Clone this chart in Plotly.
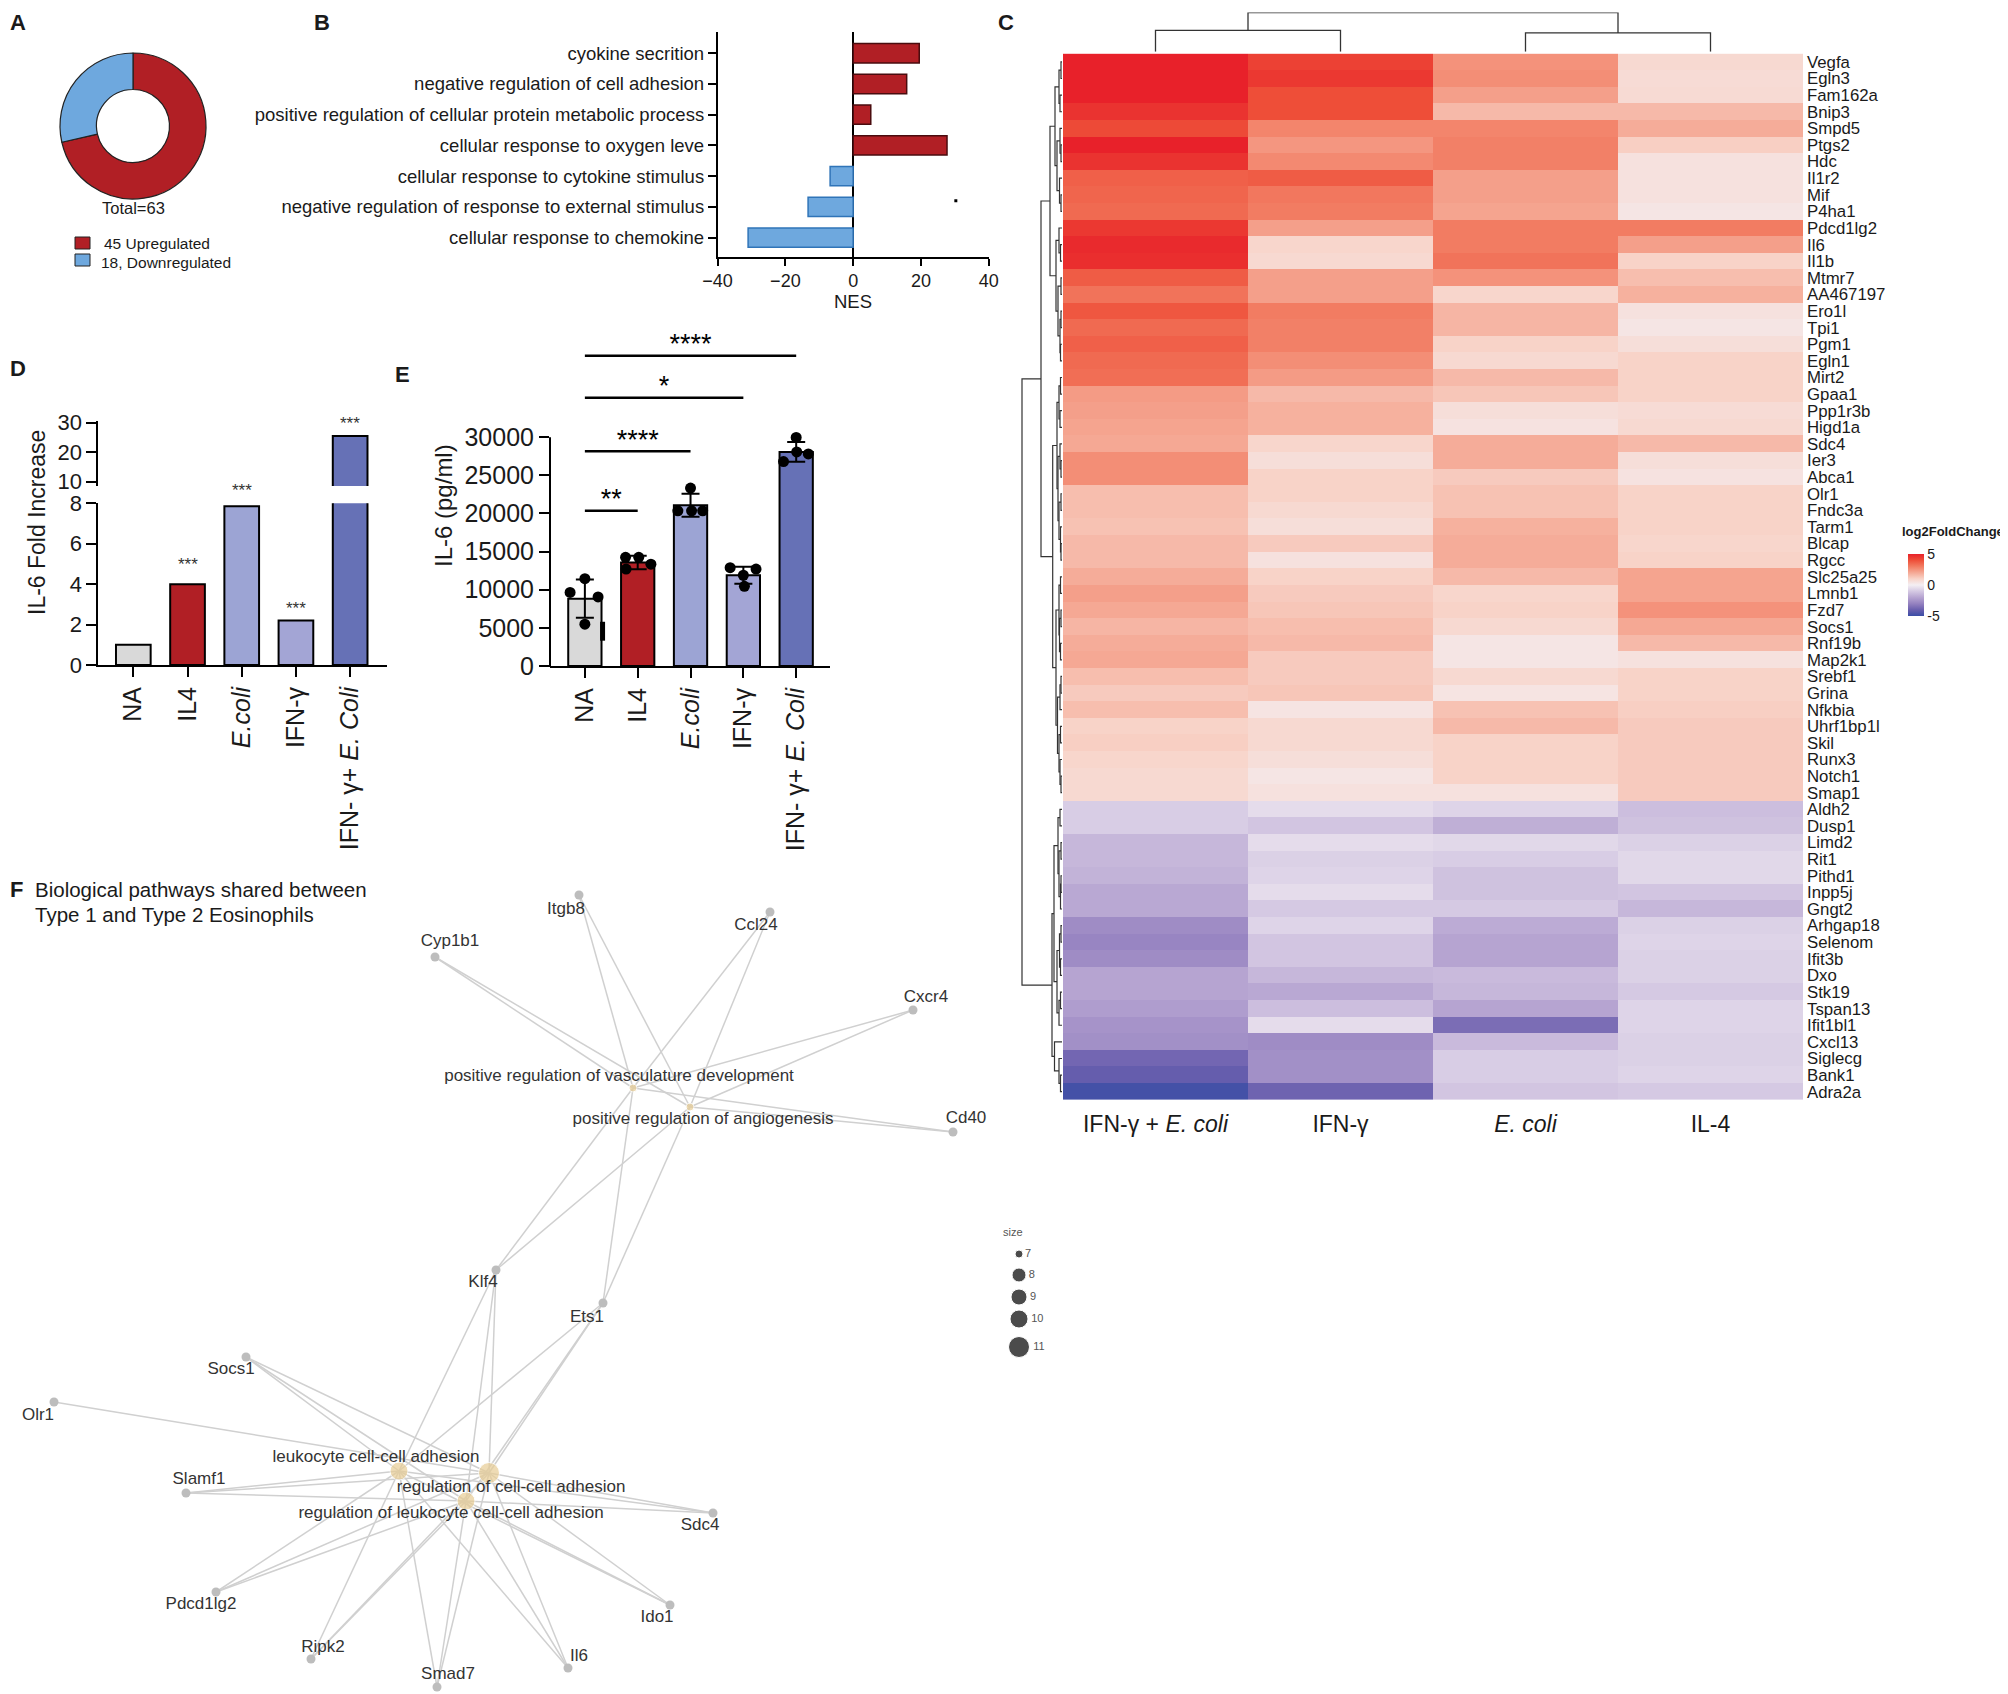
import plotly.graph_objects as go

W, H = 2008, 1694
OFF = 8  # the page body margin shifts the figure by this much
FONT = "Liberation Sans, Arial, sans-serif"
INK = "#1a1a1a"


def xdom(left, right):
    return [(left - OFF) / W, (right - OFF) / W]


def ydom(top, bottom):
    return [1 - (bottom - OFF) / H, 1 - (top - OFF) / H]


def px(x):
    return (x - OFF) / W


def py(y):
    return 1 - (y - OFF) / H


# ---------------- A: donut ----------------
pie_labels = ["45 Upregulated", "18, Downregulated"]
pie_values = [45, 18]
pie_colors = ["#B11F25", "#6EA8DE"]

# ---------------- B: NES ----------------
nes_terms = ["cyokine secrition", "negative regulation of cell adhesion",
             "positive regulation of cellular protein metabolic process",
             "cellular response to oxygen leve", "cellular response to cytokine stimulus",
             "negative regulation of response to external stimulus",
             "cellular response to chemokine"]
nes_values = [19.5, 15.8, 5.2, 27.7, -6.8, -13.3, -31.0]
nes_speck_x = [30.3]
nes_speck_y = [4.8]

# ---------------- C: heatmap ----------------
genes = ["Vegfa", "Egln3", "Fam162a", "Bnip3", "Smpd5", "Ptgs2", "Hdc", "Il1r2", "Mif", "P4ha1",
         "Pdcd1lg2", "Il6", "Il1b", "Mtmr7", "AA467197", "Ero1l", "Tpi1", "Pgm1", "Egln1", "Mirt2",
         "Gpaa1", "Ppp1r3b", "Higd1a", "Sdc4", "Ier3", "Abca1", "Olr1", "Fndc3a", "Tarm1", "Blcap",
         "Rgcc", "Slc25a25", "Lmnb1", "Fzd7", "Socs1", "Rnf19b", "Map2k1", "Srebf1", "Grina", "Nfkbia",
         "Uhrf1bp1l", "Skil", "Runx3", "Notch1", "Smap1",
         "Aldh2", "Dusp1", "Limd2", "Rit1", "Pithd1",
         "Inpp5j", "Gngt2", "Arhgap18", "Selenom", "Ifit3b", "Dxo", "Stk19", "Tspan13", "Ifit1bl1", "Cxcl13",
         "Siglecg", "Bank1", "Adra2a"]
conditions = ["IFN-γ + <i>E. coli</i>", "IFN-γ", "<i>E. coli</i>", "IL-4"]
lfc_ifn_ecoli = [5.0, 5.0, 5.0, 4.6, 4.1, 5.0, 4.6, 3.6, 3.5, 3.4,
                 4.5, 4.8, 4.7, 3.7, 3.2, 3.8, 3.4, 3.6, 3.4, 3.3,
                 2.3, 2.2, 2.1, 2.0, 2.6, 2.6, 1.5, 1.5, 1.4, 1.6,
                 1.6, 1.9, 2.2, 2.0, 1.7, 1.9, 2.0, 1.5, 1.2, 1.5,
                 1.0, 1.1, 0.9, 0.8, 0.8,
                 -0.9, -0.9, -1.5, -1.5, -1.6,
                 -1.9, -1.9, -2.7, -2.9, -2.7, -2.0, -2.0, -2.2, -2.5, -2.6,
                 -3.8, -4.1, -4.8]
lfc_ifn = [4.3, 4.5, 4.0, 4.0, 2.8, 2.4, 2.7, 3.7, 3.1, 3.0,
           2.2, 0.9, 0.8, 2.2, 2.2, 3.0, 2.9, 2.9, 2.6, 2.3,
           1.6, 1.8, 1.8, 0.9, 0.6, 1.0, 1.0, 0.8, 0.6, 1.2,
           0.5, 1.0, 1.2, 1.3, 1.5, 1.6, 1.2, 1.2, 1.3, 0.4,
           0.8, 0.8, 0.6, 0.35, 0.5,
           -0.5, -1.1, -0.5, -0.8, -0.7,
           -0.5, -1.0, -0.7, -1.1, -1.1, -1.5, -1.9, -1.3, -0.5, -2.7,
           -2.6, -2.6, -3.9]
lfc_ecoli = [2.5, 2.6, 2.2, 1.6, 2.8, 2.9, 2.9, 2.2, 2.2, 2.1,
             3.0, 3.0, 3.2, 2.5, 0.9, 1.7, 1.7, 1.0, 0.8, 1.6,
             1.3, 0.6, 0.45, 1.9, 1.9, 1.2, 1.4, 1.4, 1.8, 1.9,
             1.9, 1.6, 0.9, 1.0, 0.8, 0.35, 0.35, 0.8, 0.4, 1.4,
             1.6, 1.0, 1.0, 1.0, 0.5,
             -0.7, -1.7, -0.6, -0.9, -1.2,
             -1.2, -1.0, -1.8, -2.0, -2.0, -1.4, -1.5, -2.0, -3.6, -1.4,
             -0.9, -0.9, -1.1]
lfc_il4 = [0.8, 0.7, 0.75, 1.6, 1.9, 1.1, 0.5, 0.5, 0.5, 0.35,
           3.0, 2.2, 1.0, 1.5, 1.8, 0.5, 0.35, 0.6, 1.0, 1.0,
           1.0, 0.7, 0.8, 1.6, 0.6, 0.45, 1.0, 1.0, 1.0, 0.9,
           1.0, 2.1, 2.1, 2.5, 2.0, 1.6, 0.5, 1.0, 1.0, 1.1,
           1.2, 1.2, 1.2, 1.2, 1.2,
           -1.3, -1.2, -0.8, -0.6, -0.6,
           -1.1, -1.5, -0.8, -0.7, -0.8, -0.8, -1.0, -0.7, -0.7, -0.8,
           -0.8, -0.7, -1.0]

# dendrograms: [merge height, left, right], leaves are column / row indices
col_tree = [39.3, [21.4, 0, 1], [18.9, 2, 3]]
red_top = [12, [7, [3, [1, 0, 1], [2, 2, 3]], [5, [2, 4, [1, 5, 6]], [2.5, 7, [1, 8, 9]]]],
           [6, [3, 10, [1.5, 11, 12]], [4, [1, 13, 14], [2, [1, 15, 16], [1.5, 17, 18]]]]]
red_low = [9.3, [5, [3, [1.5, 19, 20], [2, 21, 22]], [4, [2, 23, [1, 24, 25]], [3, [1, 26, 27], [1.5, 28, [1, 29, 30]]]]],
           [6, [3, [1.5, 31, 32], [2.5, [1, 33, 34], [1.5, 35, 36]]],
            [4.5, [2, [1, 37, 38], 39], [3, [1.5, 40, 41], [2, 42, [1, 43, 44]]]]]]
blue = [10, [8, [4, [2, 45, 46], [3, [1, 47, 48], [1.5, [1, 49, 50], 51]]],
             [5, [2.5, [1, 52, 53], [1.5, 54, 55]], [3, [1.5, 56, 57], 58]]],
        [7.5, 59, [3, 60, [1.5, 61, 62]]]]
row_tree = [40, [21, red_top, red_low], blue]

# ---------------- D / E ----------------
treatments = ["NA", "IL4", "<i>E.coli</i>", "IFN-γ", "IFN- γ+ <i>E. Coli</i>"]
bar_colors = ["#D9D9D9", "#B11F25", "#9CA4D4", "#A3A5D5", "#6671B6"]
fold_increase = [1.0, 4.0, 7.85, 2.2, 25.5]
fold_star_y = [None, 5.15, 8.85, 3.0, 31.2]

il6_mean = [8830, 13570, 21070, 11900, 28070]
il6_sd = [2500, 900, 1500, 1100, 1300]
il6_dot_group = [0, 0, 0, 0, 1, 1, 1, 1, 2, 2, 2, 2, 3, 3, 3, 3, 4, 4, 4, 4]
il6_dot_offset = [-0.28, 0.0, 0.25, 0.0, -0.23, 0.02, 0.25, -0.22, 0.0, -0.24, 0.02, 0.23,
                  -0.25, 0.02, 0.24, 0.0, 0.0, -0.24, 0.01, 0.23]
il6_dot_value = [9640, 11450, 9050, 5490, 14250, 14250, 13350, 12710, 23330, 20350, 20350, 20350,
                 12890, 10450, 12710, 11900, 29970, 26800, 28070, 27800]
sig_from = [0, 0, 0, 0]
sig_to = [1, 2, 3, 4]
sig_level = [20350, 28170, 35160, 40680]
sig_label = ["**", "****", "*", "****"]
il6_speck_x = [0.335, 0.335]
il6_speck_y = [3320, 5800]

# ---------------- F: network ----------------
gene_names = ["Itgb8", "Ccl24", "Cyp1b1", "Cxcr4", "Cd40", "Klf4", "Ets1", "Socs1", "Olr1", "Slamf1",
              "Sdc4", "Pdcd1lg2", "Ido1", "Ripk2", "Smad7", "Il6"]
gene_x = [579, 770, 435, 913, 953, 496, 603, 246, 54, 186, 713, 216, 670, 311, 437, 568]
gene_y = [895, 912, 957, 1010, 1132, 1270, 1303, 1357, 1402, 1493, 1513, 1592, 1605, 1659, 1687, 1668]
gene_lab_x = [566, 756, 450, 926, 966, 483, 587, 231, 38, 199, 700, 201, 657, 323, 448, 579]
gene_lab_y = [910, 926, 942, 998, 1119, 1283, 1318, 1370, 1416, 1480, 1526, 1605, 1618, 1648, 1675, 1657]
gene_terms = [[0, 1], [0, 1], [0, 1], [0, 1], [0, 1], [0, 1, 2, 3, 4], [0, 1, 2, 3, 4], [2, 3, 4], [3],
              [2, 3, 4], [2, 3, 4], [2, 3, 4], [2, 3, 4], [2, 3, 4], [2, 3, 4], [2, 3, 4]]
term_names = ["positive regulation of vasculature development", "positive regulation of angiogenesis",
              "leukocyte cell-cell adhesion", "regulation of cell-cell adhesion",
              "regulation of leukocyte cell-cell adhesion"]
term_x = [633, 690, 399, 489, 466]
term_y = [1088, 1107, 1471, 1473, 1501]
term_lab_x = [619, 703, 376, 511, 451]
term_lab_y = [1077, 1120, 1458, 1488, 1514]
term_size = [7, 7, 10, 11, 10]
size_levels = [7, 8, 9, 10, 11]
size_px = [8, 14, 16, 18, 21]
size_key_y = [1254, 1275, 1297, 1319, 1347]


def dendro(node, a, b):
    # a: leaf-position coordinates, b: height coordinates
    if isinstance(node, int):
        return float(node), 0.0
    h, left, right = node
    pl, hl = dendro(left, a, b)
    pr, hr = dendro(right, a, b)
    a += [pl, pl, pr, pr, None]
    b += [hl, h, h, hr, None]
    return (pl + pr) / 2, h


fig = go.Figure()

# A
fig.add_trace(go.Pie(labels=pie_labels, values=pie_values, hole=0.5, sort=False, direction="clockwise",
                     marker=dict(colors=pie_colors, line=dict(color="#222", width=1.2)),
                     textinfo="none", domain=dict(x=xdom(60, 206), y=ydom(53, 199)), showlegend=False))

# B
fig.add_trace(go.Bar(x=nes_values, y=list(range(len(nes_terms))), orientation="h", width=0.63,
                     marker=dict(color=[pie_colors[0] if v > 0 else pie_colors[1] for v in nes_values],
                                 line=dict(color=["#4a0c0f" if v > 0 else "#2F74B8" for v in nes_values],
                                           width=1.5)),
                     xaxis="x", yaxis="y"))
fig.add_trace(go.Scatter(x=nes_speck_x, y=nes_speck_y, mode="markers",
                         marker=dict(symbol="square", size=3, color="black"), xaxis="x", yaxis="y"))

# C heatmap
z = [[lfc_ifn_ecoli[i], lfc_ifn[i], lfc_ecoli[i], lfc_il4[i]] for i in range(len(genes))]
scale = [[0.0, "#3A4DA5"], [0.1, "#6A5FAE"], [0.2, "#9582C0"], [0.3, "#B6A4D1"], [0.4, "#D5C9E3"],
         [0.5, "#F4EFF3"], [0.6, "#F8D3C8"], [0.7, "#F5A894"], [0.8, "#F27C62"], [0.9, "#EE4E38"],
         [1.0, "#E8212A"]]
fig.add_trace(go.Heatmap(z=z, x=list(range(4)), y=list(range(len(genes))), zmin=-5, zmax=5,
                         colorscale=scale, xaxis="x6", yaxis="y6",
                         colorbar=dict(x=px(1898), xanchor="left", y=py(585), yanchor="middle",
                                       len=82 / H, lenmode="fraction", thickness=16, outlinewidth=0,
                                       tickvals=[-5, 0, 5], ticktext=["-5", "0", "5"], ticks="",
                                       tickfont=dict(size=14, color=INK, family=FONT))))
cx, cy = [], []
dendro(col_tree, cx, cy)
fig.add_trace(go.Scatter(x=cx, y=cy, mode="lines", line=dict(color="#333", width=1.3),
                         xaxis="x7", yaxis="y7"))
ry, rx = [], []
dendro(row_tree, ry, rx)
fig.add_trace(go.Scatter(x=rx, y=ry, mode="lines", line=dict(color="#333", width=1.2),
                         xaxis="x8", yaxis="y8"))

# D broken-axis bars
for ya, xa in (("y2", "x2"), ("y3", "x3")):
    fig.add_trace(go.Bar(x=list(range(5)), y=fold_increase, width=0.64,
                         marker=dict(color=bar_colors, line=dict(color="black", width=2)),
                         xaxis=xa, yaxis=ya))

# E
fig.add_trace(go.Bar(x=list(range(5)), y=il6_mean, width=0.63,
                     marker=dict(color=bar_colors, line=dict(color="black", width=2)),
                     error_y=dict(type="data", array=il6_sd, color="black", thickness=2, width=9),
                     xaxis="x4", yaxis="y4"))
fig.add_trace(go.Scatter(x=il6_speck_x, y=il6_speck_y, mode="lines", line=dict(color="black", width=5),
                         xaxis="x4", yaxis="y4"))
fig.add_trace(go.Scatter(x=[g + o for g, o in zip(il6_dot_group, il6_dot_offset)], y=il6_dot_value,
                         mode="markers", marker=dict(color="black", size=11), cliponaxis=False,
                         xaxis="x4", yaxis="y4"))
sx, sy = [], []
for a, b, lvl in zip(sig_from, sig_to, sig_level):
    sx += [a, b, None]
    sy += [lvl, lvl, None]
fig.add_trace(go.Scatter(x=sx, y=sy, mode="lines", line=dict(color="black", width=2.5),
                         xaxis="x4", yaxis="y4"))
fig.add_trace(go.Scatter(x=[(a + b) / 2 for a, b in zip(sig_from, sig_to)],
                         y=[lvl + 1200 for lvl in sig_level], mode="text", text=sig_label,
                         textfont=dict(size=27, color="black", family=FONT), cliponaxis=False,
                         xaxis="x4", yaxis="y4"))

# F network
ex, ey = [], []
for gx, gy, terms in zip(gene_x, gene_y, gene_terms):
    for t in terms:
        ex += [gx, term_x[t], None]
        ey += [gy, term_y[t], None]
fig.add_trace(go.Scatter(x=ex, y=ey, mode="lines", line=dict(color="#D0D0D0", width=1.5),
                         xaxis="x5", yaxis="y5"))
fig.add_trace(go.Scatter(x=gene_x, y=gene_y, mode="markers", marker=dict(color="#BDBDBD", size=9),
                         xaxis="x5", yaxis="y5"))
fig.add_trace(go.Scatter(x=term_x, y=term_y, mode="markers",
                         marker=dict(color="#E8CD95", size=[size_px[size_levels.index(s)] for s in term_size]),
                         xaxis="x5", yaxis="y5"))
fig.add_trace(go.Scatter(x=gene_lab_x, y=gene_lab_y, mode="text", text=gene_names,
                         textfont=dict(size=17, color="#333", family=FONT), xaxis="x5", yaxis="y5"))
fig.add_trace(go.Scatter(x=term_lab_x, y=term_lab_y, mode="text", text=term_names,
                         textfont=dict(size=17, color="#333", family=FONT), xaxis="x5", yaxis="y5"))
fig.add_trace(go.Scatter(x=[1019] * len(size_levels), y=size_key_y, mode="markers+text",
                         marker=dict(color="black", size=size_px), text=[str(s) for s in size_levels],
                         textposition="middle right", textfont=dict(size=11, color="#555", family=FONT),
                         xaxis="x5", yaxis="y5"))

tick = dict(color=INK, family=FONT)
axis_base = dict(showgrid=False, zeroline=False, showline=True, linecolor="black", ticks="outside",
                 tickcolor="black", automargin=False)

layout = dict(
    width=W, height=H, margin=dict(l=0, r=0, t=0, b=0, pad=0, autoexpand=False), autosize=False,
    paper_bgcolor="white", plot_bgcolor="rgba(0,0,0,0)", showlegend=False,
    font=dict(family=FONT, color=INK),
    # B
    xaxis=dict(axis_base, domain=xdom(717.6, 988.7), anchor="y", range=[-40, 40],
               tickvals=[-40, -20, 0, 20, 40], linewidth=1.5, ticklen=7, tickwidth=1.5,
               zeroline=True, zerolinecolor="black", zerolinewidth=1.5, tickfont=dict(tick, size=18)),
    yaxis=dict(axis_base, domain=ydom(32, 257), anchor="x", range=[6.63, -0.69],
               tickvals=list(range(7)), ticktext=nes_terms, linewidth=1.5, ticklen=8, tickwidth=1.5,
               tickfont=dict(tick, size=18.5)),
    # D lower / upper
    xaxis2=dict(axis_base, domain=xdom(98.3, 387), anchor="y2", range=[-0.646, 4.68],
                tickvals=list(range(5)), ticktext=treatments, tickangle=-90, linewidth=2,
                ticklen=10, tickwidth=2, tickfont=dict(tick, size=25)),
    yaxis2=dict(axis_base, domain=ydom(503.3, 665), anchor="x2", range=[0, 8],
                tickvals=[0, 2, 4, 6, 8], linewidth=2, ticklen=10, tickwidth=2,
                tickfont=dict(tick, size=22)),
    xaxis3=dict(domain=xdom(98.3, 387), anchor="y3", matches="x2", visible=False),
    yaxis3=dict(axis_base, domain=ydom(421, 486), anchor="x3", range=[8.54, 30.58],
                tickvals=[10, 20, 30], linewidth=2, ticklen=10, tickwidth=2,
                tickfont=dict(tick, size=22)),
    # E
    xaxis4=dict(axis_base, domain=xdom(550, 830), anchor="y4", range=[-0.66, 4.64],
                tickvals=list(range(5)), ticktext=treatments, tickangle=-90, linewidth=2,
                ticklen=10, tickwidth=2, tickfont=dict(tick, size=25)),
    yaxis4=dict(axis_base, domain=ydom(330, 666), anchor="x4", range=[0, 44056], showline=False,
                tickvals=[0, 5000, 10000, 15000, 20000, 25000, 30000], tickformat="d",
                ticklen=10, tickwidth=2, tickfont=dict(tick, size=25)),
    # F
    xaxis5=dict(domain=xdom(OFF, 1100), anchor="y5", range=[OFF, 1100], visible=False),
    yaxis5=dict(domain=ydom(870, 1694 + OFF), anchor="x5", range=[1694 + OFF, 870], visible=False),
    # C heatmap + dendrograms
    xaxis6=dict(domain=xdom(1063, 1803), anchor="y6", range=[-0.5, 3.5], showgrid=False, zeroline=False,
                tickvals=list(range(4)), ticktext=conditions, ticks="", ticklabelstandoff=8,
                tickfont=dict(tick, size=23)),
    yaxis6=dict(domain=ydom(53.6, 1100), anchor="x6", range=[62.5, -0.5], side="right", showgrid=False,
                zeroline=False, tickvals=list(range(len(genes))), ticktext=genes, ticks="",
                ticklabelstandoff=3, tickfont=dict(tick, size=16.8)),
    xaxis7=dict(domain=xdom(1063, 1803), anchor="y7", range=[-0.5, 3.5], visible=False),
    yaxis7=dict(domain=ydom(12.5, 51.8), anchor="x7", range=[0, 39.3], visible=False),
    xaxis8=dict(domain=xdom(1016, 1062), anchor="y8", range=[46, 0], visible=False),
    yaxis8=dict(domain=ydom(53.6, 1100), anchor="x8", range=[62.5, -0.5], visible=False),
)


def on_axis(ax, v):
    # paper y-fraction of value v on a layout y axis
    d0, d1 = layout[ax]["domain"]
    r0, r1 = layout[ax]["range"]
    return d0 + (v - r0) / (r1 - r0) * (d1 - d0)


# E axis line stops at 30000
shapes = [dict(type="line", xref="paper", yref="paper", x0=px(550), x1=px(550),
               y0=on_axis("yaxis4", 0) - 1 / H, y1=on_axis("yaxis4", 30000),
               line=dict(color="black", width=2))]
# A legend keys
for (top, bottom), col in zip([(237, 249), (254, 266)], pie_colors):
    shapes.append(dict(type="rect", xref="paper", yref="paper", x0=px(75), x1=px(90),
                       y0=py(bottom), y1=py(top), fillcolor=col, line=dict(color="#222", width=1)))
layout["shapes"] = shapes


def ann(x, y, text, size, xanchor="center", angle=0, color=INK, yanchor="middle"):
    return dict(x=px(x), y=py(y), xref="paper", yref="paper", text=text, showarrow=False,
                xanchor=xanchor, yanchor=yanchor, textangle=angle,
                font=dict(size=size, color=color, family=FONT))


annotations = [
    ann(OFF, OFF, "<b>A</b>", 22, "left", yanchor="top"),
    ann(322, OFF, "<b>B</b>", 22, yanchor="top"),
    ann(1006, OFF, "<b>C</b>", 22, yanchor="top"),
    ann(OFF, 368, "<b>D</b>", 22, "left"), ann(402, 375, "<b>E</b>", 22),
    ann(OFF, 889, "<b>F</b>", 22, "left"),
    ann(133, 208, "Total=63", 16.5),
    ann(102, 243, pie_labels[0], 15.5, "left"), ann(99, 263, pie_labels[1], 15.5, "left"),
    ann(853, 302, "NES", 18.5),
    ann(37, 523, "IL-6 Fold Increase", 23, angle=-90),
    ann(443, 506, "IL-6 (pg/ml)", 24, angle=-90),
    ann(1953, 532, "<b>log2FoldChange</b>", 13),
    ann(33, 889, "Biological pathways shared between", 20.5, "left"),
    ann(33, 914, "Type 1 and Type 2 Eosinophils", 20.5, "left"),
    ann(1013, 1232, "size", 11, color="#555"),
]
# D significance stars: lower-axis values unless the bar is broken onto the upper axis
for i, sy_ in enumerate(fold_star_y):
    if sy_ is None:
        continue
    ax = "yaxis3" if fold_increase[i] > 8 else "yaxis2"
    annotations.append(dict(x=i, xref="x2", y=on_axis(ax, sy_), yref="paper", text="***",
                            showarrow=False, yanchor="middle", yshift=-4,
                            font=dict(size=17, color="#333", family=FONT)))
layout["annotations"] = annotations

fig.update_layout(layout)
fig.write_html("out.html")
